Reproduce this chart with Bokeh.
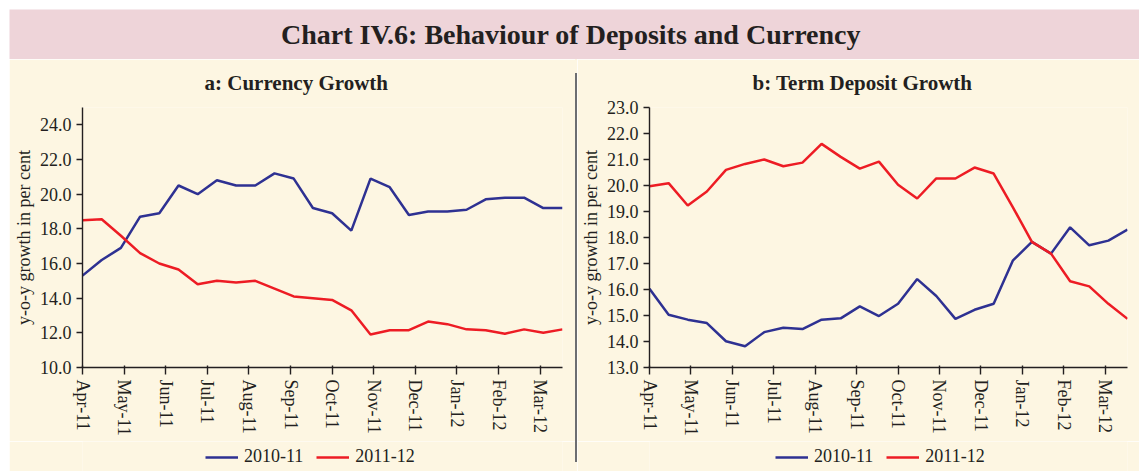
from bokeh.plotting import figure
from bokeh.layouts import row, column
from bokeh.models import (Range1d, FixedTicker, CustomJSTickFormatter, NumeralTickFormatter,
                          Legend, LegendItem, Label, Spacer)
from bokeh.embed import file_html
from bokeh.resources import INLINE

# ---------------- data ----------------
months = ["Apr-11", "May-11", "Jun-11", "Jul-11", "Aug-11", "Sep-11",
          "Oct-11", "Nov-11", "Dec-11", "Jan-12", "Feb-12", "Mar-12"]
series_labels = ["2010-11", "2011-12"]

# fortnightly observations (26 per year)
currency_2010_11 = [15.3, 16.2, 16.9, 18.7, 18.9, 20.5, 20.0, 20.8, 20.5, 20.5, 21.2, 20.9, 19.2,
                    18.9, 17.9, 20.9, 20.4, 18.8, 19.0, 19.0, 19.1, 19.7, 19.8, 19.8, 19.2, 19.2]
currency_2011_12 = [18.5, 18.55, 17.6, 16.6, 16.0, 15.65, 14.8, 15.0, 14.9, 15.0, 14.55, 14.1, 14.0,
                    13.9, 13.3, 11.9, 12.15, 12.15, 12.65, 12.5, 12.2, 12.15, 11.95, 12.2, 12.0, 12.2]

term_dep_2010_11 = [16.03, 15.03, 14.84, 14.71, 14.01, 13.82, 14.36, 14.53, 14.48, 14.84, 14.89, 15.35, 14.98,
                    15.45, 16.4, 15.75, 14.87, 15.22, 15.45, 17.11, 17.83, 17.38, 18.39, 17.7, 17.88, 18.3]
term_dep_2011_12 = [19.97, 20.09, 19.23, 19.77, 20.6, 20.83, 21.0, 20.74, 20.88, 21.6, 21.1, 20.65, 20.92,
                    20.03, 19.5, 20.27, 20.27, 20.69, 20.46, 19.17, 17.83, 17.38, 16.32, 16.12, 15.45, 14.87]

currency_yticks = [10, 12, 14, 16, 18, 20, 22, 24]
term_dep_yticks = [13, 14, 15, 16, 17, 18, 19, 20, 21, 22, 23]

# ---------------- style ----------------
PINK = "#EED4D9"
CREAM = "#FDF6E2"
BLUE = "#2E3192"
RED = "#ED1C24"
INK = "#231F20"
GREY = "#6D6E71"
FONT = "Liberation Serif"
FS = "18px"

n_obs = len(currency_2010_11)
per_month = n_obs / len(months)
month_ticks = [m * per_month for m in range(len(months))]

PANEL_H = 382
LEG_H = 30


def make_panel(title, s1, s2, ymin, ymax, yticks, width, min_left, min_right, title_offset, legend_x):
    x = list(range(len(s1)))
    p = figure(width=width, height=PANEL_H, x_range=Range1d(0, len(s1) - 1), y_range=Range1d(ymin, ymax),
               output_backend="svg", toolbar_location=None,
               min_border_left=min_left, min_border_right=min_right,
               min_border_top=48, min_border_bottom=PANEL_H - 48 - 260,
               background_fill_color=CREAM, border_fill_color=CREAM, outline_line_color=None)
    p.title.text = title
    p.title.text_font = FONT
    p.title.text_font_size = "21px"
    p.title.text_font_style = "bold"
    p.title.text_color = INK
    p.title.align = "left"
    p.title.offset = title_offset
    p.title.vertical_align = "top"
    p.title.standoff = 22
    p.xgrid.visible = False
    p.ygrid.visible = False

    p.line(x, s1, line_color=BLUE, line_width=2.5)
    p.line(x, s2, line_color=RED, line_width=2.5)

    xa = p.xaxis[0]
    xa.ticker = FixedTicker(ticks=month_ticks)
    xa.formatter = CustomJSTickFormatter(args=dict(labels=months),
                                         code="const i = Math.round(tick / (26/12)); return labels[i] || '';")
    xa.major_label_orientation = "vertical"
    ya = p.yaxis[0]
    ya.ticker = FixedTicker(ticks=yticks)
    ya.formatter = NumeralTickFormatter(format="0.0")
    ya.axis_label = "y-o-y growth in per cent"
    ya.axis_label_text_font = FONT
    ya.axis_label_text_font_size = FS
    ya.axis_label_text_font_style = "normal"
    ya.axis_label_text_color = INK
    ya.axis_label_standoff = 3
    for ax in (xa, ya):
        ax.minor_tick_line_color = None
        ax.axis_line_color = INK
        ax.axis_line_width = 1.4
        ax.major_tick_line_color = INK
        ax.major_tick_line_width = 1.4
        ax.major_label_text_font = FONT
        ax.major_label_text_font_size = FS
        ax.major_label_text_color = INK
        ax.major_label_standoff = 5
    xa.major_tick_out = 7
    xa.major_tick_in = 2
    ya.major_tick_out = 6
    ya.major_tick_in = 0

    # legend strip under the panel (series drawn off-range so only the legend shows)
    lf = figure(width=width, height=LEG_H, x_range=Range1d(0, 1), y_range=Range1d(0, 1),
                output_backend="svg", toolbar_location=None,
                x_axis_location=None, y_axis_location=None,
                min_border_left=min_left, min_border_right=min_right,
                min_border_top=0, min_border_bottom=0,
                background_fill_color=CREAM, border_fill_color=CREAM, outline_line_color=None)
    lf.xgrid.visible = False
    lf.ygrid.visible = False
    k1 = lf.line(x, s1, line_color=BLUE, line_width=2.5)
    k2 = lf.line(x, s2, line_color=RED, line_width=2.5)
    legend = Legend(items=[LegendItem(label=series_labels[0], renderers=[k1]),
                           LegendItem(label=series_labels[1], renderers=[k2])],
                    orientation="horizontal", location=(legend_x, 4),
                    background_fill_color=CREAM, background_fill_alpha=1, border_line_color=None,
                    label_text_font=FONT, label_text_font_size=FS, label_text_color=INK,
                    glyph_width=33, glyph_height=18, label_standoff=6, spacing=13,
                    padding=0, margin=0)
    lf.add_layout(legend)
    return column(p, lf)


header = figure(width=1139, height=59, x_range=Range1d(0, 1), y_range=Range1d(0, 1),
                output_backend="svg", toolbar_location=None,
                x_axis_location=None, y_axis_location=None,
                min_border_left=9, min_border_top=9, min_border_right=0, min_border_bottom=0,
                background_fill_color=PINK, border_fill_color="white", outline_line_color=None)
header.xgrid.visible = False
header.ygrid.visible = False
header.add_layout(Label(x=0.5, y=0.5, text="Chart IV.6: Behaviour of  Deposits and Currency",
                        text_font=FONT, text_font_size="28px", text_font_style="bold",
                        text_color=INK, text_align="center", text_baseline="middle"))

left = make_panel("a: Currency Growth", currency_2010_11, currency_2011_12, 10, 25, currency_yticks,
                  566, 73, 13, 122, 123)
right = make_panel("b: Term Deposit Growth", term_dep_2010_11, term_dep_2011_12, 13, 23, term_dep_yticks,
                   562, 71, 12, 103, 126)

sep = column(Spacer(width=2, height=14, styles={"background-color": CREAM}),
             Spacer(width=2, height=389, styles={"background-color": GREY}),
             Spacer(width=2, height=9, styles={"background-color": CREAM}))

layout = column(header, row(Spacer(width=9, height=412), left, sep, right))

open("out.html", "w").write(file_html(layout, INLINE))
